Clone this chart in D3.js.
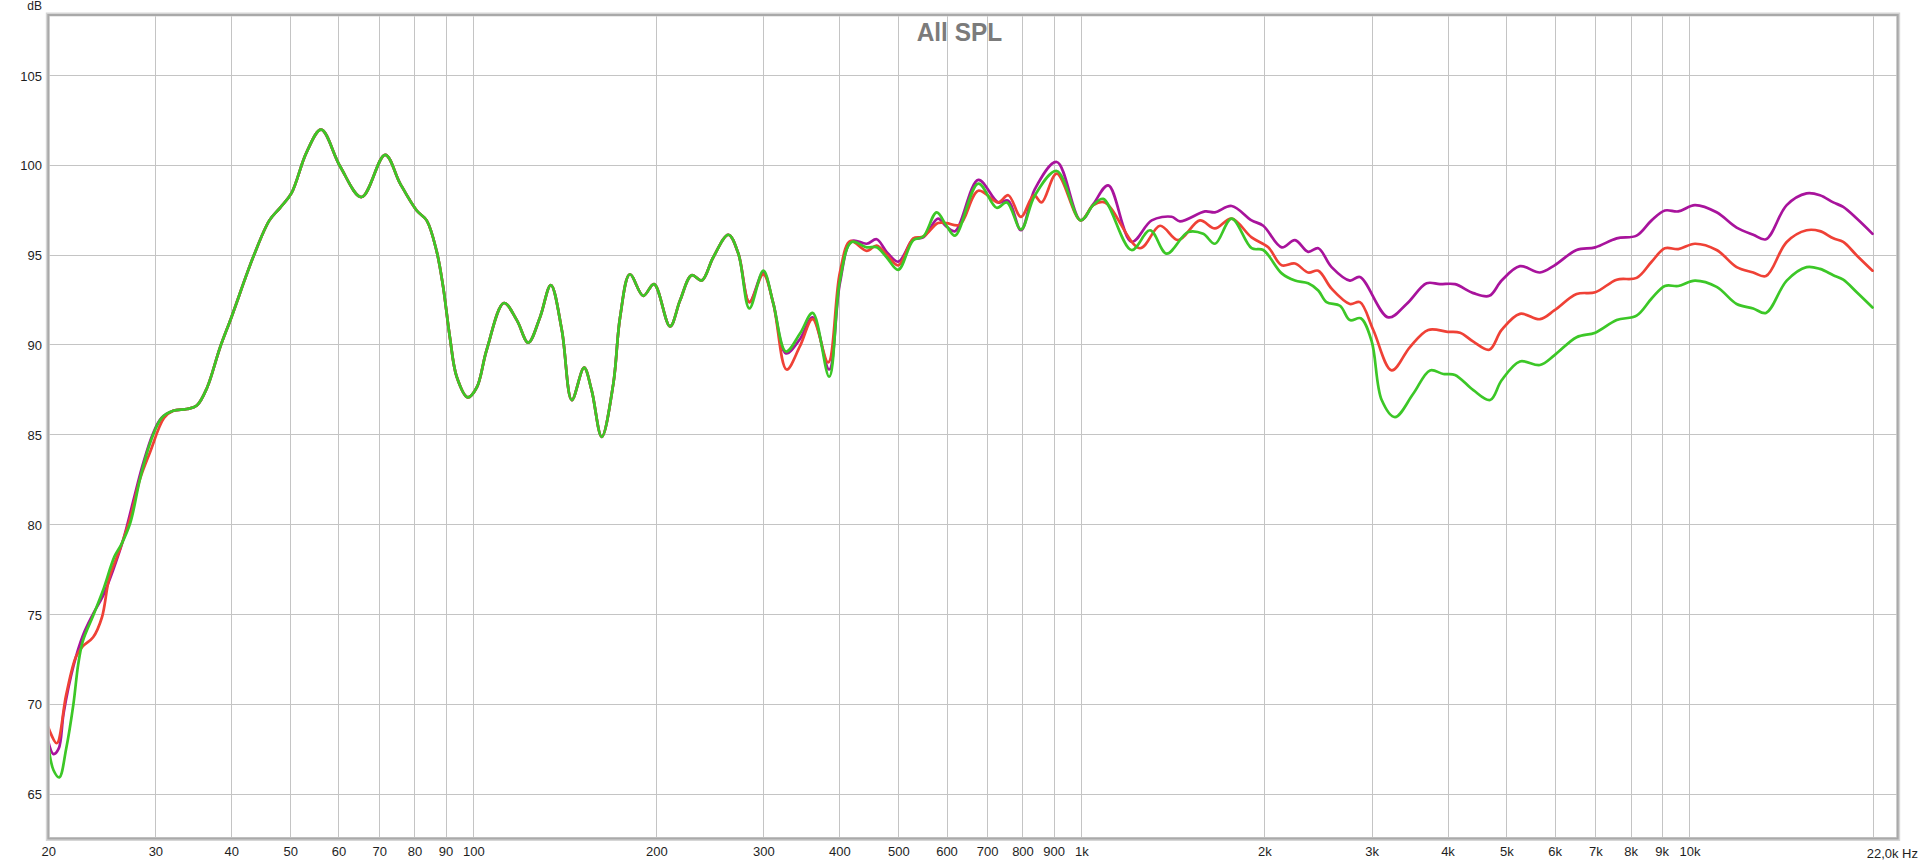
<!DOCTYPE html>
<html>
<head>
<meta charset="utf-8">
<script src="https://cdn.jsdelivr.net/npm/d3@7"></script>
<style>
  html, body { margin: 0; padding: 0; background: #ffffff; }
  svg { display: block; }
  text { font-family: "Liberation Sans", Arial, sans-serif; }
</style>
</head>
<body>
<svg id="chart" width="1920" height="863"></svg>
<script>
// ---------------- data ----------------
const chartTitle = "All SPL";
const yUnit = "dB";
const yTickValues = [65, 70, 75, 80, 85, 90, 95, 100, 105];
const xGridValues = [30, 40, 50, 60, 70, 80, 90, 100, 200, 300, 400, 500, 600, 700, 800, 900,
  1000, 2000, 3000, 4000, 5000, 6000, 7000, 8000, 9000, 10000, 20000];
const xLabelValues = [20, 30, 40, 50, 60, 70, 80, 90, 100, 200, 300, 400, 500, 600, 700, 800, 900,
  1000, 2000, 3000, 4000, 5000, 6000, 7000, 8000, 9000, 10000];
const xLabelTexts = ["20", "30", "40", "50", "60", "70", "80", "90", "100", "200", "300", "400", "500",
  "600", "700", "800", "900", "1k", "2k", "3k", "4k", "5k", "6k", "7k", "8k", "9k", "10k"];
const xEndLabel = "22,0k Hz";

// low end, per series [Hz, dB]
const purpleLow = [[20, 67.9], [20.4, 67.2], [20.8, 67.5], [21.2, 69.5], [22.0, 72.1], [22.8, 73.8],
  [23.7, 75.0], [24.6, 76.0], [25.6, 77.5], [26.6, 79.2], [27.6, 81.3], [28.6, 83.3], [29.7, 85.0], [30.7, 85.9]];
const redLow = [[20, 68.7], [20.65, 67.8], [21.4, 70.5], [22.2, 72.6], [22.8, 73.2], [23.7, 73.7],
  [24.5, 74.8], [25.2, 77.0], [26.3, 78.7], [27.3, 80.4], [28.3, 82.5], [29.4, 84.0], [31.0, 85.9]];
const greenLow = [[20, 67.7], [20.4, 66.3], [20.85, 65.9], [21.4, 67.5], [22.0, 70.0], [22.4, 72.2],
  [22.8, 73.5], [23.7, 74.9], [24.6, 76.3], [25.7, 78.2], [26.4, 78.9], [27.3, 80.1], [28.3, 82.5],
  [29.4, 84.5], [30.7, 85.9]];

// common part (all three curves coincide)
const sharedMid = [[32.1, 86.3], [33.8, 86.4], [35.1, 86.6], [36.5, 87.6], [38.3, 89.8], [40, 91.5],
  [43.5, 94.9], [46.2, 96.9], [48.1, 97.6], [50.2, 98.4], [53.2, 100.7], [56.2, 101.95], [60.4, 99.9],
  [65.5, 98.2], [71.6, 100.55], [75.8, 98.95], [80.7, 97.45], [83.8, 96.9], [87.0, 95.2], [89.2, 93.2],
  [91.5, 90.4], [93.9, 88.2], [97.9, 87.05], [101.3, 87.6], [105.2, 89.7], [112.3, 92.3], [117.9, 91.35],
  [123.1, 90.1], [128.7, 91.5], [134.1, 93.3], [139.8, 90.8], [145.2, 86.9], [152.1, 88.7], [156.5, 87.45],
  [162.6, 84.85], [169.9, 87.8], [174.3, 91.5], [180.9, 93.9], [190.3, 92.7], [198.2, 93.35], [210.6, 91.0],
  [218.8, 92.45], [228.6, 93.85], [237.4, 93.55], [248.1, 94.85], [262.7, 96.1], [272.8, 95.05]];

const purpleHigh = [[284.4, 92.35], [299.8, 94.0], [311.3, 92.3], [326.7, 89.5], [344.5, 90.3], [361.4, 91.5],
  [384.8, 88.6], [400.7, 93.4], [419, 95.75], [443.5, 95.6], [460.6, 95.85], [478.2, 95.15], [499.8, 94.6],
  [529, 95.85], [549.5, 95.95], [581, 97.0], [600, 96.55], [619.7, 96.3], [676.8, 99.15], [729.9, 97.9],
  [758.1, 98.0], [795.5, 96.35], [838.7, 98.65], [910.8, 100.15], [997, 96.9], [1046, 97.8], [1107, 98.85],
  [1209, 95.7], [1305, 96.9], [1407, 97.1], [1452, 96.85], [1597, 97.4], [1658, 97.35], [1766, 97.7],
  [1905, 96.9], [1991, 96.6], [2135, 95.4], [2245, 95.8], [2360, 95.15], [2452, 95.35], [2579, 94.3],
  [2764, 93.55], [2871, 93.75], [3197, 91.5], [3426, 92.25], [3696, 93.4], [3887, 93.35], [4115, 93.35],
  [4411, 92.85], [4686, 92.7], [4910, 93.55], [5262, 94.35], [5677, 94.0], [6000, 94.4], [6522, 95.25],
  [7000, 95.4], [7591, 95.9], [8185, 96.05], [8664, 96.9], [9111, 97.45], [9584, 97.4], [10210, 97.75],
  [11082, 97.35], [11955, 96.5], [12730, 96.1], [13360, 95.85], [14450, 97.75], [15580, 98.4], [16390, 98.3],
  [17240, 97.9], [17900, 97.65], [18840, 97.0], [20000, 96.15]];

const redHigh = [[284.4, 92.35], [299.8, 93.9], [311.3, 92.3], [327.5, 88.6], [344.5, 89.9], [361.4, 91.4],
  [383.4, 89.0], [400.7, 94.0], [417, 95.75], [443.5, 95.2], [460.6, 95.5], [478.2, 95.0], [499.8, 94.4],
  [529, 95.9], [549.5, 96.0], [581, 96.75], [600, 96.75], [630.7, 96.65], [676.8, 98.55], [729.9, 97.9],
  [758.1, 98.3], [795.5, 97.1], [835, 98.3], [860, 97.9], [910.8, 99.5], [997, 96.9], [1046, 97.75],
  [1093, 97.9], [1248, 95.35], [1347, 96.6], [1443, 95.8], [1566, 96.9], [1658, 96.45], [1766, 97.0],
  [1905, 95.95], [2029, 95.4], [2135, 94.4], [2245, 94.5], [2360, 94.0], [2452, 94.1], [2579, 93.1],
  [2764, 92.25], [2871, 92.35], [3020, 90.8], [3238, 88.55], [3470, 89.85], [3719, 90.8], [4000, 90.7],
  [4194, 90.65], [4411, 90.15], [4686, 89.7], [4910, 90.8], [5262, 91.7], [5677, 91.4], [6000, 91.9],
  [6522, 92.8], [7000, 92.9], [7591, 93.6], [8185, 93.7], [8664, 94.6], [9111, 95.35], [9584, 95.3],
  [10210, 95.6], [11082, 95.25], [11955, 94.3], [12730, 94.0], [13360, 93.8], [14450, 95.7], [15580, 96.35],
  [16390, 96.3], [17240, 95.9], [17900, 95.7], [18840, 94.95], [20000, 94.1]];

const greenHigh = [[284.4, 92.0], [299.8, 94.1], [311.3, 92.3], [326.7, 89.6], [344.5, 90.6], [361.4, 91.75],
  [384.8, 88.2], [400.7, 93.55], [419, 95.7], [443.5, 95.4], [460.6, 95.4], [478.2, 94.85], [499.8, 94.15],
  [529, 95.8], [549.5, 96.0], [578, 97.35], [600, 96.6], [619.7, 96.05], [676.8, 98.95], [725.5, 97.6],
  [754, 97.9], [795.5, 96.4], [838.7, 98.3], [910.8, 99.65], [997, 96.9], [1046, 97.75], [1086, 98.1],
  [1209, 95.25], [1297, 96.35], [1381, 95.05], [1498, 96.25], [1586, 96.15], [1658, 95.6], [1766, 97.0],
  [1905, 95.35], [1991, 95.25], [2135, 93.95], [2245, 93.55], [2360, 93.4], [2452, 93.0], [2530, 92.35],
  [2662, 92.15], [2764, 91.35], [2880, 91.45], [3000, 90.2], [3118, 86.9], [3278, 85.95], [3513, 87.25],
  [3744, 88.55], [3937, 88.35], [4115, 88.3], [4411, 87.45], [4700, 86.9], [4910, 88.0], [5262, 89.05],
  [5677, 88.85], [6000, 89.4], [6522, 90.4], [7000, 90.65], [7591, 91.35], [8185, 91.6], [8664, 92.55],
  [9111, 93.25], [9584, 93.25], [10210, 93.55], [11082, 93.2], [11955, 92.25], [12730, 92.0], [13360, 91.75],
  [14450, 93.55], [15580, 94.3], [16390, 94.2], [17240, 93.85], [17900, 93.6], [18840, 92.9], [20000, 92.05]];

const seriesNames = ["purple", "red", "green"];
const seriesColors = ["#a8139c", "#ef4136", "#3cc727"];

// ---------------- layout ----------------
const plot = { left: 48.3, top: 15, right: 1897.7, bottom: 838.5 };

const svg = d3.select("#chart");
const x = d3.scaleLog().domain([20, 22000]).range([plot.left, plot.right]);
const y = d3.scaleLinear().domain([62.5, 108.33]).range([plot.bottom, plot.top]);

// gridlines
const gridColor = "#c4c4c4";
const gx = svg.append("g")
  .attr("transform", `translate(0,${plot.bottom})`)
  .call(d3.axisBottom(x).tickValues(xGridValues).tickSize(-(plot.bottom - plot.top)).tickFormat(""));
gx.select(".domain").remove();
gx.selectAll("line").attr("stroke", gridColor).attr("stroke-width", 1).attr("shape-rendering", "crispEdges");

const gy = svg.append("g")
  .attr("transform", `translate(${plot.left},0)`)
  .call(d3.axisLeft(y).tickValues(yTickValues).tickSize(-(plot.right - plot.left)).tickFormat(""));
gy.select(".domain").remove();
gy.selectAll("line").attr("stroke", gridColor).attr("stroke-width", 1).attr("shape-rendering", "crispEdges");

// title
svg.append("text")
  .attr("x", 916.7).attr("y", 40.5)
  .attr("font-size", 26).attr("font-weight", "bold")
  .attr("fill", "#7b7b7b")
  .attr("textLength", 85.5).attr("lengthAdjust", "spacingAndGlyphs")
  .text(chartTitle);

// curves
svg.append("clipPath").attr("id", "clip")
  .append("rect").attr("x", plot.left).attr("y", plot.top)
  .attr("width", plot.right - plot.left).attr("height", plot.bottom - plot.top);

const line = d3.line().x(d => x(d[0])).y(d => y(d[1])).curve(d3.curveCatmullRom.alpha(0.5));
const seriesData = [
  purpleLow.concat(sharedMid, purpleHigh),
  redLow.concat(sharedMid, redHigh),
  greenLow.concat(sharedMid, greenHigh)
];
svg.append("g").attr("clip-path", "url(#clip)")
  .selectAll("path").data(seriesData).join("path")
  .attr("d", line)
  .attr("fill", "none")
  .attr("stroke", (d, i) => seriesColors[i])
  .attr("stroke-width", 2.7)
  .attr("stroke-linejoin", "round")
  .attr("stroke-linecap", "round");

// frame
svg.append("rect")
  .attr("x", plot.left - 0.5).attr("y", plot.top - 0.5)
  .attr("width", plot.right - plot.left + 1).attr("height", plot.bottom - plot.top + 1)
  .attr("fill", "none").attr("stroke", "#d6d6d6").attr("stroke-width", 4);
svg.append("rect")
  .attr("x", plot.left).attr("y", plot.top)
  .attr("width", plot.right - plot.left).attr("height", plot.bottom - plot.top)
  .attr("fill", "none").attr("stroke", "#a9a9a9").attr("stroke-width", 2);

// y labels
const yl = svg.append("g")
  .attr("transform", `translate(42,0)`)
  .call(d3.axisLeft(y).tickValues(yTickValues).tickSize(0).tickPadding(0).tickFormat(d3.format("d")));
yl.select(".domain").remove();
yl.selectAll("text").attr("font-size", 13).attr("fill", "#1e1e1e")
  .attr("font-family", "Liberation Sans, Arial, sans-serif").attr("dy", "0.4em");

svg.append("text").attr("x", 42).attr("y", 10).attr("text-anchor", "end")
  .attr("font-size", 12).attr("fill", "#1e1e1e").text(yUnit);

// x labels
const xl = svg.append("g")
  .attr("transform", `translate(0,${plot.bottom})`)
  .call(d3.axisBottom(x).tickValues(xLabelValues).tickSize(0).tickPadding(0)
    .tickFormat((d, i) => xLabelTexts[i]));
xl.select(".domain").remove();
xl.selectAll("text").attr("font-size", 13).attr("fill", "#1e1e1e")
  .attr("font-family", "Liberation Sans, Arial, sans-serif").attr("dy", "1.38em");

svg.append("text").attr("x", 1918).attr("y", 857.5).attr("text-anchor", "end")
  .attr("font-size", 13).attr("fill", "#1e1e1e").text(xEndLabel);
</script>
</body>
</html>
